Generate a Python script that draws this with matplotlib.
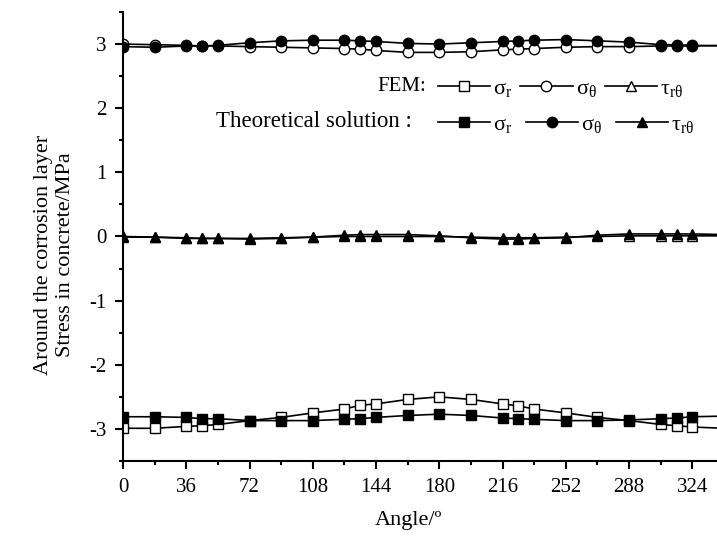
import numpy as np
import matplotlib
matplotlib.use("Agg")
import matplotlib.pyplot as plt
from matplotlib.ticker import MultipleLocator

plt.rcParams['font.family'] = ['Liberation Serif', 'DejaVu Serif']
plt.rcParams['mathtext.fontset'] = 'custom'
plt.rcParams['mathtext.rm'] = 'Liberation Serif'
plt.rcParams['axes.unicode_minus'] = False

# angle (deg) of the computed points
angle = [0, 18, 36, 45, 54, 72, 90, 108, 126, 135, 144, 162, 180,
         198, 216, 225, 234, 252, 270, 288, 306, 315, 324, 342, 360]

# FEM results
fem_sr = [-2.99, -2.99, -2.96, -2.95, -2.93, -2.87, -2.82, -2.75, -2.69, -2.63, -2.61, -2.54, -2.50,
          -2.54, -2.61, -2.64, -2.69, -2.75, -2.82, -2.87, -2.93, -2.95, -2.97, -2.99, -2.99]
fem_st = [3.00, 2.99, 2.98, 2.97, 2.97, 2.96, 2.95, 2.94, 2.93, 2.92, 2.90, 2.87, 2.87,
          2.88, 2.91, 2.92, 2.93, 2.95, 2.96, 2.96, 2.97, 2.97, 2.97, 2.98, 3.00]
fem_tau = [0.00, -0.01, -0.02, -0.03, -0.03, -0.03, -0.02, -0.01, 0.00, 0.00, 0.00, 0.00, 0.00,
           -0.01, -0.02, -0.02, -0.02, -0.01, 0.00, 0.01, 0.01, 0.01, 0.01, 0.01, 0.00]

# theoretical solution
th_sr = [-2.81, -2.81, -2.82, -2.84, -2.84, -2.87, -2.87, -2.87, -2.85, -2.84, -2.82, -2.79, -2.77,
         -2.79, -2.83, -2.84, -2.85, -2.87, -2.87, -2.86, -2.84, -2.83, -2.81, -2.80, -2.81]
th_st = [2.96, 2.95, 2.97, 2.97, 2.98, 3.02, 3.05, 3.06, 3.06, 3.05, 3.04, 3.01, 3.00,
         3.02, 3.04, 3.05, 3.06, 3.07, 3.05, 3.03, 2.99, 2.99, 2.98, 2.97, 2.96]
th_tau = [-0.01, -0.01, -0.03, -0.03, -0.03, -0.04, -0.03, -0.01, 0.02, 0.03, 0.03, 0.03, 0.01,
          -0.02, -0.04, -0.04, -0.03, -0.02, 0.02, 0.04, 0.04, 0.04, 0.04, 0.03, 0.00]

xticks = [0, 36, 72, 108, 144, 180, 216, 252, 288, 324]

fig = plt.figure(figsize=(7.17, 5.37), dpi=100)
ax = fig.add_axes([0.1715, 0.1415, 0.8285, 0.8362])

style = dict(color='black', lw=1.2, ms=7.5, mec='black', mew=1.0)
lab_sr = r'$\mathregular{σ_{r}}$'
lab_st = r'$\mathregular{σ_{θ}}$'
lab_tau = r'$\mathregular{τ_{rθ}}$'

fem_lines = []
fem_lines += ax.plot(angle, fem_sr, marker='s', mfc='white', **style)
fem_lines += ax.plot(angle, fem_st, marker='o', mfc='white', **style)
fem_lines += ax.plot(angle, fem_tau, marker='^', mfc='white', **style)
th_lines = []
th_lines += ax.plot(angle, th_sr, marker='s', mfc='black', **style)
th_lines += ax.plot(angle, th_st, marker='o', mfc='black', **style)
th_lines += ax.plot(angle, th_tau, marker='^', mfc='black', **style)

ax.set_xlim(0, 338)
ax.set_ylim(-3.5, 3.5)
ax.set_xticks(xticks)
ax.xaxis.set_minor_locator(MultipleLocator(18))
ax.yaxis.set_major_locator(MultipleLocator(1))
ax.yaxis.set_minor_locator(MultipleLocator(0.5))
ax.spines['top'].set_visible(False)
ax.spines['right'].set_visible(False)
for s in ['left', 'bottom']:
    ax.spines[s].set_linewidth(1.5)
ax.tick_params(which='major', direction='out', length=6, width=1.5, labelsize=15, pad=6)
ax.tick_params(which='minor', direction='out', length=3, width=1.5)

ax.set_xlabel('Angle/º', fontsize=16, labelpad=10)
ax.xaxis.label.set_x(0.48)
ax.set_ylabel('Around the corrosion layer\nStress in concrete/MPa', fontsize=16,
              multialignment='center', linespacing=1.25, labelpad=10)
ax.yaxis.label.set_y(0.46)

labels = [lab_sr, lab_st, lab_tau]
leg1 = ax.legend(fem_lines, labels, ncol=3, frameon=False, fontsize=16,
                 handlelength=2.35, handletextpad=0.15, columnspacing=0.35,
                 loc='center left', bbox_to_anchor=(0.53, 0.83), borderaxespad=0,
                 borderpad=0)
ax.add_artist(leg1)
leg2 = ax.legend(th_lines, labels, ncol=3, frameon=False, fontsize=16,
                 handlelength=2.35, handletextpad=0.15, columnspacing=0.6,
                 loc='center left', bbox_to_anchor=(0.53, 0.75), borderaxespad=0,
                 borderpad=0)
ax.text(0.51, 0.835, 'FEM:', transform=ax.transAxes, ha='right', va='center', fontsize=15)
ax.text(0.487, 0.755, 'Theoretical solution :', transform=ax.transAxes, ha='right',
        va='center', fontsize=16.5)

fig.savefig('out.png', dpi=100)
